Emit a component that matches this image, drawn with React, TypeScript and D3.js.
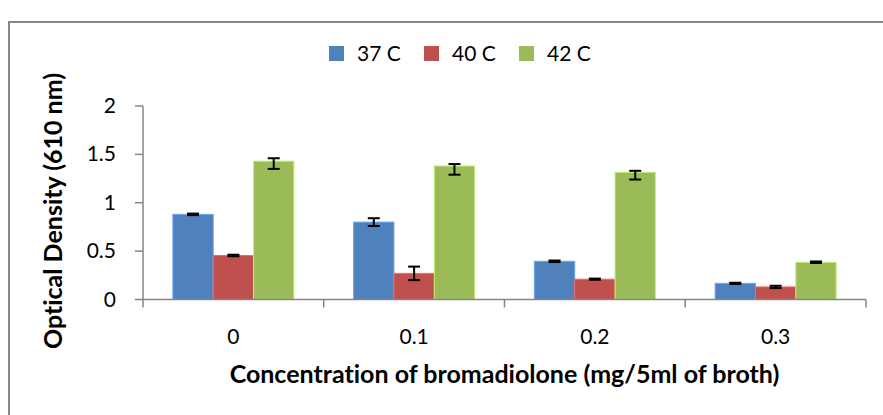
import React from "react";
import * as d3 from "d3";

const categories = ["0", "0.1", "0.2", "0.3"];
const seriesNames = ["37 C", "40 C", "42 C"];
const seriesColors = ["#4F81BD", "#C0504D", "#9BBB59"];

const values37 = [0.88, 0.8, 0.395, 0.167];
const values40 = [0.455, 0.27, 0.21, 0.13];
const values42 = [1.43, 1.38, 1.315, 0.385];

const errUp37 = [0.008, 0.04, 0.008, 0.006];
const errDown37 = [0.008, 0.04, 0.008, 0.006];
const errUp40 = [0.008, 0.07, 0.006, 0.012];
const errDown40 = [0.008, 0.07, 0.006, 0.012];
const errUp42 = [0.03, 0.02, 0.015, 0.008];
const errDown42 = [0.08, 0.09, 0.075, 0.008];

const yTicks = [0, 0.5, 1, 1.5, 2];

const yTitle = "Optical Density (610 nm)";
const xTitle = "Concentration of bromadiolone (mg/5ml of broth)";

const W = 883;
const H = 415;
const FONT = "Lato, 'Open Sans', sans-serif";
const AXIS = "#868686";

export default function App() {
  const series = [
    { name: seriesNames[0], color: seriesColors[0], values: values37, up: errUp37, down: errDown37 },
    { name: seriesNames[1], color: seriesColors[1], values: values40, up: errUp40, down: errDown40 },
    { name: seriesNames[2], color: seriesColors[2], values: values42, up: errUp42, down: errDown42 },
  ];

  const plotLeft = 143;
  const plotRight = 866;
  const plotTop = 106;
  const plotBottom = 299.5;

  const x0 = d3.scaleBand<string>().domain(categories).range([plotLeft, plotRight]).padding(0);
  const x1 = d3
    .scaleBand<string>()
    .domain(seriesNames)
    .range([0, x0.step()])
    .paddingInner(0)
    .paddingOuter(0.74);
  const y = d3.scaleLinear().domain([0, 2]).range([plotBottom, plotTop]);

  const capW = 12;

  const legendX = [329, 424, 519];

  return (
    <div style={{ position: "fixed", left: 0, top: 0 }}>
      <svg
        width={W}
        height={H}
        style={{ display: "block", background: "#fff", fontVariantLigatures: "none" }}
        fontFamily={FONT}
      >
        {/* chart frame */}
        <rect x={9} y={22} width={W} height={H} fill="#fff" stroke={AXIS} strokeWidth={2} />

        {/* legend */}
        {series.map((s, i) => (
          <g key={s.name}>
            <rect x={legendX[i]} y={46} width={15} height={15} fill={s.color} />
            <text x={legendX[i] + 28} y={61} fontSize={21} fill="#000">
              {s.name}
            </text>
          </g>
        ))}

        {/* bars */}
        {series.map((s) =>
          categories.map((c, ci) => {
            const bx = (x0(c) as number) + (x1(s.name) as number);
            const by = y(s.values[ci]);
            return (
              <rect
                key={s.name + c}
                x={bx}
                y={by}
                width={x1.bandwidth()}
                height={plotBottom - by}
                fill={s.color}
                stroke={d3.color(s.color)!.brighter(0.7).formatHex()}
                strokeWidth={1}
              />
            );
          })
        )}

        {/* error bars */}
        {series.map((s) =>
          categories.map((c, ci) => {
            const cx = (x0(c) as number) + (x1(s.name) as number) + x1.bandwidth() / 2;
            const yHi = y(s.values[ci] + s.up[ci]);
            const yLo = y(s.values[ci] - s.down[ci]);
            return (
              <g key={"e" + s.name + c} stroke="#000" strokeWidth={2}>
                <line x1={cx} x2={cx} y1={yHi} y2={yLo} />
                <line x1={cx - capW / 2} x2={cx + capW / 2} y1={yHi} y2={yHi} />
                <line x1={cx - capW / 2} x2={cx + capW / 2} y1={yLo} y2={yLo} />
              </g>
            );
          })
        )}

        {/* y axis */}
        <line x1={plotLeft} x2={plotLeft} y1={plotTop} y2={plotBottom} stroke={AXIS} strokeWidth={1.5} />
        {yTicks.map((t) => (
          <g key={"y" + t}>
            <line x1={plotLeft - 8} x2={plotLeft} y1={y(t)} y2={y(t)} stroke={AXIS} strokeWidth={1.5} />
            <text x={116} y={y(t) + 7} textAnchor="end" fontSize={21} fill="#000">
              {t}
            </text>
          </g>
        ))}

        {/* x axis */}
        <line x1={plotLeft} x2={plotRight} y1={plotBottom} y2={plotBottom} stroke={AXIS} strokeWidth={1.5} />
        {[...categories.map((c) => x0(c) as number), plotRight].map((tx, i) => (
          <line key={"xt" + i} x1={tx} x2={tx} y1={plotBottom} y2={plotBottom + 8} stroke={AXIS} strokeWidth={1.5} />
        ))}
        {categories.map((c) => (
          <text
            key={"xl" + c}
            x={(x0(c) as number) + x0.step() / 2}
            y={344}
            textAnchor="middle"
            fontSize={21}
            fill="#000"
          >
            {c}
          </text>
        ))}

        {/* axis titles */}
        <text x={(plotLeft + plotRight) / 2} y={383} textAnchor="middle" fontSize={25} fontWeight="bold" fill="#000">
          {xTitle}
        </text>
        <text
          transform={`translate(62, 211) rotate(-90)`}
          textAnchor="middle"
          fontSize={25}
          fontWeight="bold"
          fill="#000"
        >
          {yTitle}
        </text>
      </svg>
    </div>
  );
}
